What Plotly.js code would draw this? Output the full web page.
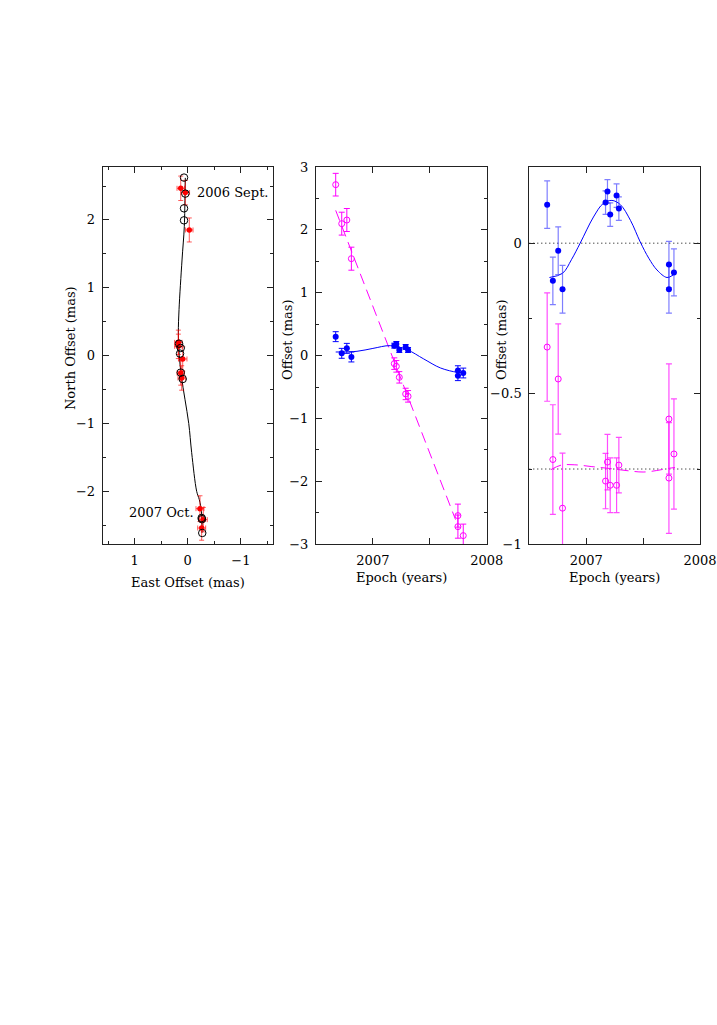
<!DOCTYPE html>
<html><head><meta charset="utf-8">
<script src="https://cdn.plot.ly/plotly-3.0.1.min.js"></script>
<style>body{margin:0;background:#fff}#chart{width:717px;height:1025px}</style>
</head><body><div id="chart"></div>
<script>
// ---------- Panel 1: sky positions ----------
const skyEast      = [0.131, 0.045, -0.030, 0.176, 0.176, 0.094, 0.131, 0.113, -0.231, -0.293, -0.263];
const skyNorth     = [2.466, 2.403, 1.852, 0.196, 0.137, -0.049, -0.255, -0.329, -2.255, -2.417, -2.540];
const skyEastErr   = [0.07, 0.08, 0.07, 0.07, 0.07, 0.08, 0.07, 0.07, 0.075, 0.075, 0.075];
const skyNorthErr  = [0.18, 0.18, 0.177, 0.18, 0.18, 0.18, 0.18, 0.18, 0.19, 0.18, 0.18];
const modelEast    = [0.069, 0.045, 0.069, 0.069, 0.163, 0.131, 0.144, 0.131, 0.094, -0.263, -0.268, -0.274];
const modelNorth   = [2.624, 2.388, 2.171, 1.994, 0.177, 0.113, 0.030, -0.250, -0.344, -2.392, -2.410, -2.613];
const pathEast     = [0.045, 0.050, 0.064, 0.107, 0.163, 0.176, 0.158, 0.120, 0.050, -0.020, -0.075, -0.169, -0.218, -0.260, -0.270];
const pathNorth    = [2.620, 2.400, 1.900, 1.410, 0.680, 0.335, 0.000, -0.300, -0.650, -1.000, -1.430, -2.000, -2.120, -2.300, -2.610];
const skyLabels    = ['2006 Sept.', '2007 Oct.'];

// ---------- Panel 2: offsets vs epoch ----------
const epochs2      = [2006.673, 2006.726, 2006.771, 2006.811, 2007.188, 2007.206, 2007.232, 2007.288, 2007.309, 2007.747, 2007.747, 2007.794];
const raOffset     = [0.302, 0.037, 0.116, -0.021, 0.159, 0.186, 0.090, 0.138, 0.090, -0.238, -0.318, -0.276];
const raErr        = [0.079, 0.079, 0.079, 0.079, 0.039, 0.039, 0.039, 0.039, 0.039, 0.077, 0.079, 0.078];
const decOffset    = [2.719, 2.099, 2.157, 1.542, -0.127, -0.170, -0.345, -0.609, -0.647, -2.544, -2.719, -2.862];
const decErr       = [0.18, 0.182, 0.183, 0.183, 0.092, 0.092, 0.091, 0.091, 0.092, 0.183, 0.184, 0.183];
const raFitEpoch   = [2006.673, 2006.86, 2007.0, 2007.153, 2007.3, 2007.447, 2007.594, 2007.741, 2007.794];
const raFit        = [0.058, 0.069, 0.115, 0.159, 0.095, -0.053, -0.196, -0.265, -0.270];
const decFitEpoch  = [2006.673, 2007.726];
const decFit       = [2.31, -2.607];

// ---------- Panel 3: residual (parallax) offsets ----------
const epochs3      = [2006.657, 2006.707, 2006.754, 2006.792, 2007.170, 2007.187, 2007.211, 2007.267, 2007.287, 2007.727, 2007.727, 2007.771];
const raResid      = [0.128, -0.125, -0.025, -0.153, 0.135, 0.172, 0.095, 0.158, 0.115, -0.071, -0.153, -0.097];
const decResid     = [-0.345, -0.7185, -0.451, -0.880, -0.790, -0.727, -0.804, -0.804, -0.737, -0.584, -0.780, -0.700];
const raParEpoch   = [2006.677, 2006.792, 2006.87, 2006.947, 2007.064, 2007.15, 2007.226, 2007.30, 2007.39, 2007.475, 2007.55, 2007.622, 2007.71, 2007.763];
const raParallax   = [-0.114, -0.100, -0.055, 0.000, 0.087, 0.132, 0.142, 0.128, 0.075, 0.004, -0.050, -0.089, -0.114, -0.106];
const decParEpoch  = [2006.69, 2006.78, 2006.90, 2007.05, 2007.20, 2007.35, 2007.50, 2007.62, 2007.72, 2007.78];
const decParallax  = [-0.752, -0.737, -0.736, -0.742, -0.748, -0.755, -0.760, -0.755, -0.748, -0.745];
const refLevels    = [0, -0.75];

const F = 'DejaVu Serif';
const FS = 13;
const W = 717, H = 1025;
const px = v => v / W, py = v => (H - v) / H;
const yDom = [py(544.3), py(167)];

const BLUE = '#0000ff', MAG = '#ff00ff';

function axis(extra) {
  return Object.assign({
    showline: true, linecolor: '#222', linewidth: 1, mirror: 'allticks',
    ticks: 'inside', ticklen: 6, tickwidth: 1, tickcolor: '#222',
    showgrid: false, zeroline: false, ticklabelstandoff: 4,
    tickfont: {family: F, size: FS, color: '#000'}
  }, extra);
}
const minor = d => ({dtick: d, ticks: 'inside', ticklen: 3, tickcolor: '#222', showgrid: false});

const traces = [
  // panel 1
  {x: pathEast, y: pathNorth, xaxis: 'x', yaxis: 'y', mode: 'lines', line: {color: '#000', width: 1, shape: 'spline'}, hoverinfo: 'skip'},
  {x: skyEast, y: skyNorth, xaxis: 'x', yaxis: 'y', mode: 'markers',
   marker: {color: '#ff0000', size: 5.5},
   error_x: {type: 'data', array: skyEastErr, color: 'rgba(255,0,0,0.65)', thickness: 1, width: 2.5},
   error_y: {type: 'data', array: skyNorthErr, color: 'rgba(255,0,0,0.65)', thickness: 1, width: 2.5}},
  {x: modelEast, y: modelNorth, xaxis: 'x', yaxis: 'y', mode: 'markers',
   marker: {symbol: 'circle-open', color: '#000', size: 7.5, line: {width: 1}}},
  // panel 2
  {x: decFitEpoch, y: decFit, xaxis: 'x2', yaxis: 'y2', mode: 'lines', line: {color: MAG, width: 1, dash: '11px,6px'}},
  {x: raFitEpoch, y: raFit, xaxis: 'x2', yaxis: 'y2', mode: 'lines', line: {color: BLUE, width: 1, shape: 'spline'}},
  {x: epochs2, y: raOffset, xaxis: 'x2', yaxis: 'y2', mode: 'markers',
   marker: {color: BLUE, size: 6},
   error_y: {type: 'data', array: raErr, color: BLUE, thickness: 1, width: 3}},
  {x: epochs2, y: decOffset, xaxis: 'x2', yaxis: 'y2', mode: 'markers',
   marker: {symbol: 'circle-open', color: MAG, size: 6, line: {width: 1}},
   error_y: {type: 'data', array: decErr, color: MAG, thickness: 1, width: 3}},
  // panel 3
  {x: [2006.5, 2008], y: [refLevels[0], refLevels[0]], xaxis: 'x3', yaxis: 'y3', mode: 'lines', line: {color: '#000', width: 1, dash: '1px,3px'}},
  {x: [2006.5, 2008], y: [refLevels[1], refLevels[1]], xaxis: 'x3', yaxis: 'y3', mode: 'lines', line: {color: '#000', width: 1, dash: '1px,3px'}},
  {x: decParEpoch, y: decParallax, xaxis: 'x3', yaxis: 'y3', mode: 'lines', line: {color: MAG, width: 1, dash: '11px,6px', shape: 'spline'}},
  {x: raParEpoch, y: raParallax, xaxis: 'x3', yaxis: 'y3', mode: 'lines', line: {color: BLUE, width: 1, shape: 'spline'}},
  {x: epochs3, y: decResid, xaxis: 'x3', yaxis: 'y3', mode: 'markers',
   marker: {symbol: 'circle-open', color: MAG, size: 6, line: {width: 1}},
   error_y: {type: 'data', array: decErr, color: 'rgba(255,0,255,0.7)', thickness: 1.2, width: 3}},
  {x: epochs3, y: raResid, xaxis: 'x3', yaxis: 'y3', mode: 'markers',
   marker: {color: BLUE, size: 6},
   error_y: {type: 'data', array: raErr, color: 'rgba(40,40,255,0.6)', thickness: 1.2, width: 3}}
];

const ann = (text, x, y, extra) => Object.assign({text, x, y, xref: 'paper', yref: 'paper', showarrow: false,
  font: {family: F, size: FS, color: '#000'}, xanchor: 'center', yanchor: 'middle'}, extra);

const layout = {
  width: W, height: H, margin: {l: 0, r: 0, t: 0, b: 0},
  paper_bgcolor: '#fff', plot_bgcolor: '#fff', showlegend: false,
  xaxis: axis({domain: [px(102.7), px(272.7)], range: [1.6, -1.6], tickvals: [1, 0, -1], minor: minor(0.5), anchor: 'y'}),
  yaxis: axis({domain: yDom, range: [-2.78, 2.78], tickvals: [-2, -1, 0, 1, 2], minor: minor(0.5), anchor: 'x'}),
  xaxis2: axis({domain: [px(316), px(486.7)], range: [2006.5, 2008], tickvals: [2007, 2007.5, 2008], ticktext: ['2007', '', '2008'], anchor: 'y2'}),
  yaxis2: axis({domain: yDom, range: [-3, 3], tickvals: [-3, -2, -1, 0, 1, 2, 3], minor: minor(0.5), anchor: 'x2'}),
  xaxis3: axis({domain: [px(529.3), px(700)], range: [2006.5, 2008], tickvals: [2007, 2007.5, 2008], ticktext: ['2007', '', '2008'], anchor: 'y3'}),
  yaxis3: axis({domain: yDom, range: [-1, 0.253], tickvals: [-1, -0.5, 0], minor: minor(0.25), anchor: 'x3'}),
  annotations: [
    ann('North Offset (mas)', px(71), py(348), {textangle: -90}),
    ann('East Offset (mas)', px(187.5), py(582)),
    ann('Offset (mas)', px(288), py(340), {textangle: -90}),
    ann('Epoch (years)', px(401), py(577)),
    ann('Offset (mas)', px(502), py(340), {textangle: -90}),
    ann('Epoch (years)', px(614.5), py(577)),
    {text: skyLabels[0], x: -0.137, y: 2.407, xref: 'x', yref: 'y', showarrow: false, xanchor: 'left', yanchor: 'middle', font: {family: F, size: FS, color: '#000'}},
    {text: skyLabels[1], x: -0.155, y: -2.31, xref: 'x', yref: 'y', showarrow: false, xanchor: 'right', yanchor: 'middle', font: {family: F, size: FS, color: '#000'}}
  ]
};

Plotly.newPlot('chart', traces, layout, {displayModeBar: false, staticPlot: true});
</script>
</body></html>
